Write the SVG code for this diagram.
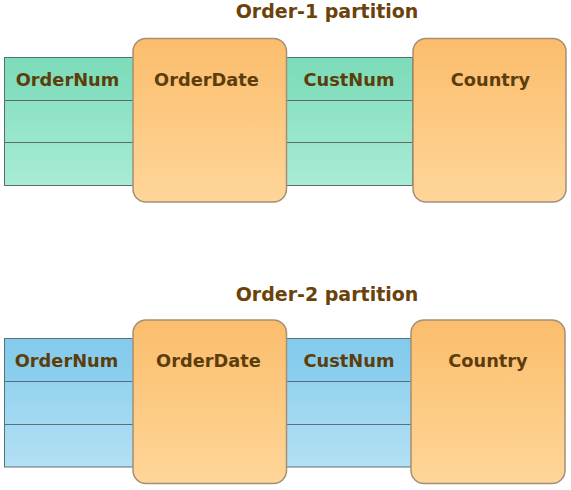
<svg xmlns="http://www.w3.org/2000/svg" width="571" height="490" viewBox="0 0 571 490">
<defs>
<linearGradient id="gHead" x1="0" y1="0" x2="0" y2="1"><stop offset="0" stop-color="#7ddcba"/><stop offset="1" stop-color="#86dfc0"/></linearGradient>
<linearGradient id="gBody" x1="0" y1="0" x2="0" y2="1"><stop offset="0" stop-color="#8be2c4"/><stop offset="1" stop-color="#a9ebd6"/></linearGradient>
<linearGradient id="bHead" x1="0" y1="0" x2="0" y2="1"><stop offset="0" stop-color="#84caeb"/><stop offset="1" stop-color="#8ccfee"/></linearGradient>
<linearGradient id="bBody" x1="0" y1="0" x2="0" y2="1"><stop offset="0" stop-color="#94d3ef"/><stop offset="1" stop-color="#b3e0f4"/></linearGradient>
<linearGradient id="oBox" x1="0" y1="0" x2="0" y2="1"><stop offset="0" stop-color="#fbbd6c"/><stop offset="1" stop-color="#fed699"/></linearGradient>
</defs>
<style>
.lbl{font-family:"DejaVu Sans",Verdana,sans-serif;font-weight:bold;font-size:17.8px;fill:#5c3d0c;text-anchor:middle}
.ttl{font-family:"DejaVu Sans",Verdana,sans-serif;font-weight:bold;font-size:19px;fill:#6b420a;text-anchor:middle}
.tbl{stroke:#5a6e66;stroke-width:1}
.tblb{stroke:#56707a;stroke-width:1}
.box{fill:url(#oBox);stroke:#a48f75;stroke-width:1.5}
</style>
<g id="partition1">
<text class="ttl" x="327" y="18">Order-1 partition</text>
<g id="table1">
<rect x="4.5" y="57.5" width="408" height="43" fill="url(#gHead)" class="tbl"/>
<rect x="4.5" y="100.5" width="408" height="85" fill="url(#gBody)" class="tbl"/>
<line x1="4.5" y1="142.5" x2="412.5" y2="142.5" class="tbl"/>
<text class="lbl" x="67.5" y="86">OrderNum</text>
<text class="lbl" x="349" y="86">CustNum</text>
</g>
<g id="orderdate1">
<rect x="133" y="38.5" width="153.5" height="163.5" rx="13" class="box"/>
<text class="lbl" x="206.5" y="86">OrderDate</text>
</g>
<g id="country1">
<rect x="413" y="38.5" width="153" height="163.5" rx="13" class="box"/>
<text class="lbl" x="490.5" y="86">Country</text>
</g>
</g>
<g id="partition2">
<text class="ttl" x="327" y="301">Order-2 partition</text>
<g id="table2">
<rect x="4.5" y="338.5" width="407" height="43" fill="url(#bHead)" class="tblb"/>
<rect x="4.5" y="381.5" width="407" height="85.5" fill="url(#bBody)" class="tblb"/>
<line x1="4.5" y1="424.5" x2="411.5" y2="424.5" class="tblb"/>
<text class="lbl" x="66.5" y="367">OrderNum</text>
<text class="lbl" x="349" y="367">CustNum</text>
</g>
<g id="orderdate2">
<rect x="133" y="320" width="153.5" height="163.5" rx="13" class="box"/>
<text class="lbl" x="208.5" y="367">OrderDate</text>
</g>
<g id="country2">
<rect x="411" y="320" width="154" height="163.5" rx="13" class="box"/>
<text class="lbl" x="488" y="367">Country</text>
</g>
</g>
</svg>
